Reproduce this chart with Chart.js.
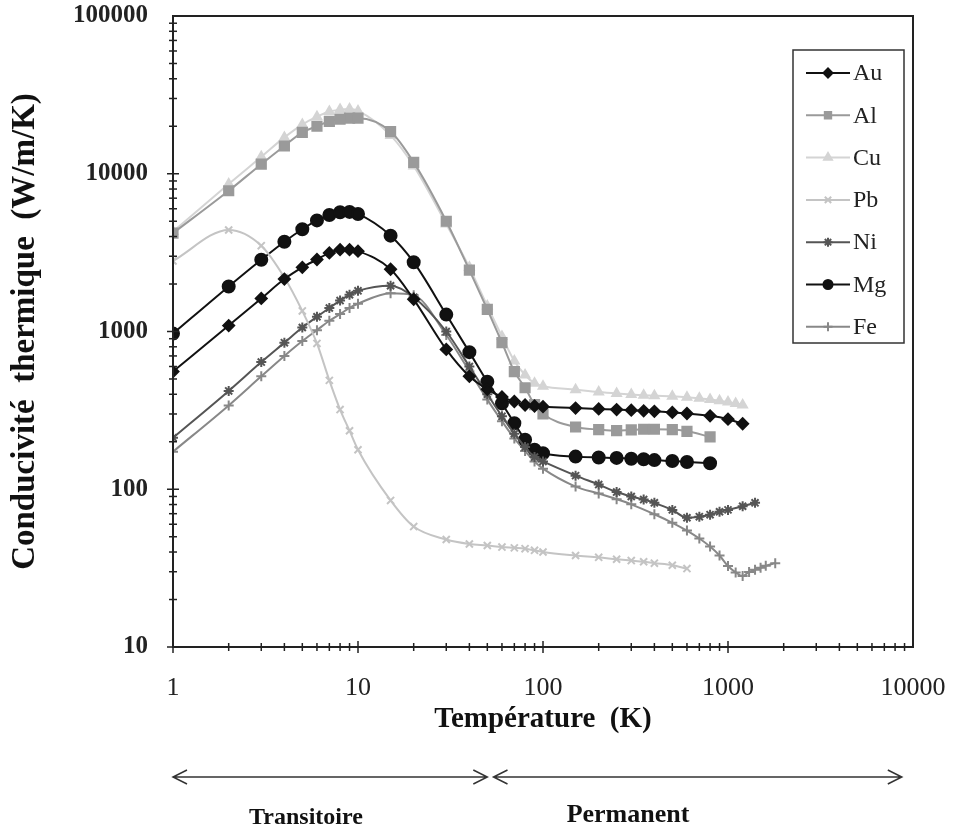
<!DOCTYPE html>
<html>
<head>
<meta charset="utf-8">
<script src="https://cdn.jsdelivr.net/npm/chart.js@4.4.0/dist/chart.umd.min.js"></script>
<style>
  body { margin: 0; background: #fff; }
</style>
</head>
<body>
<canvas id="chart" width="956" height="834"></canvas>
<script>
/** values: temperature (K) and conductivity (W/m/K) */
const auT = [1,2,3,4,5,6,7,8,9,10,15,20,30,40,50,60,70,80,90,100,150,200,250,300,350,400,500,600,800,1000,1200]
const auK = [557,1090,1620,2150,2550,2860,3150,3300,3300,3230,2480,1600,770,520,430,385,360,342,337,334,327,323,320,317,314,312,307,302,292,278,260]

const alT = [1,2,3,4,5,6,7,8,9,10,15,20,30,40,50,60,70,80,90,100,150,200,250,300,350,400,500,600,800]
const alK = [4200,7800,11500,15000,18300,20000,21500,22200,22500,22500,18500,11800,5000,2450,1380,850,557,440,344,300,248,239,235,238,240,240,239,233,215]

const cuT = [1,2,3,4,5,6,7,8,9,10,15,20,30,40,50,60,70,80,90,100,150,200,250,300,350,400,500,600,700,800,900,1000,1100,1200]
const cuK = [4300,8600,12800,17000,20500,23000,24800,25500,25700,25000,17500,11200,4800,2550,1450,930,650,530,470,450,428,413,404,398,394,392,388,383,377,371,364,357,350,342]

const pbT = [1,2,3,4,5,6,7,8,9,10,15,20,30,40,50,60,70,80,90,100,150,200,250,300,350,400,500,600]
const pbK = [2800,4400,3500,2200,1350,840,490,320,235,178,85,58,48,45,44,43,42.5,42,41,40,38,37,36,35.3,34.7,34,33,31.4]

const niT = [1,2,3,4,5,6,7,8,9,10,15,20,30,40,50,60,70,80,90,100,150,200,250,300,350,400,500,600,700,800,900,1000,1200,1400]
const niK = [212,420,640,850,1060,1240,1410,1570,1710,1810,1950,1650,1000,600,400,290,225,185,160,150,122,107,96,90,86,82,74,66,67,69,72,74,78,82]

const mgT = [1,2,3,4,5,6,7,8,9,10,15,20,30,40,50,60,70,80,90,100,150,200,250,300,350,400,500,600,800]
const mgK = [970,1930,2850,3710,4450,5060,5480,5700,5730,5560,4050,2750,1280,740,480,350,262,206,178,169,161,159,158,156,155,153,151,149,146]

const feT = [1,2,3,4,5,6,7,8,9,10,15,20,30,40,50,60,70,80,90,100,150,200,250,300,400,500,600,700,800,900,1000,1100,1200,1300,1400,1500,1600,1800]
const feK = [173,340,520,700,870,1020,1170,1290,1410,1500,1750,1700,950,560,370,270,210,175,150,135,104,94,86.5,80.2,69.4,61.3,54.7,48.7,43.3,38,32.6,29.7,28.2,29.9,30.9,31.8,32.7,34]

const xTickLabels = [1, 10, 100, 1000, 10000]
const yTickLabels = [10, 100, 1000, 10000, 100000]

const SERIF = '"Liberation Serif", "Times New Roman", serif'
Chart.defaults.font.family = SERIF

function toPoints(ts, ks) {
    return ts.map((t, i) => ({x: t, y: ks[i]}))
}

/** one dataset per metal */
function makeSeries(label, ts, ks, color, pointStyle, radius) {
    return {
        label: label,
        data: toPoints(ts, ks),
        borderColor: color,
        backgroundColor: color,
        pointBackgroundColor: color,
        pointBorderColor: color,
        pointStyle: pointStyle,
        pointRadius: radius,
        pointBorderWidth: 2,
        borderWidth: 2,
        cubicInterpolationMode: 'monotone'
    }
}

const datasets = [
    makeSeries('Au', auT, auK, '#111111', 'rectRot', 5.5),
    makeSeries('Al', alT, alK, '#9a9a9a', 'rect', 6.5),
    makeSeries('Cu', cuT, cuK, '#d4d4d4', 'triangle', 5),
    makeSeries('Pb', pbT, pbK, '#c4c4c4', 'crossRot', 5),
    makeSeries('Ni', niT, niK, '#555555', 'star', 5),
    makeSeries('Mg', mgT, mgK, '#111111', 'circle', 6),
    makeSeries('Fe', feT, feK, '#888888', 'cross', 5)
]

/** no extra room for label overflow, the layout padding decides the plot box */
function noOverflow(scale) {
    scale.paddingLeft = 0
    scale.paddingRight = 0
    scale.paddingTop = 0
    scale.paddingBottom = 0
}

/** frame, crossing tick marks, legend box and the two regime arrows */
const decorPlugin = {
    id: 'decor',
    afterDraw(chart) {
        const {ctx, chartArea: a, scales: {x, y}} = chart
        ctx.save()
        ctx.strokeStyle = '#222'
        ctx.lineWidth = 2
        ctx.strokeRect(a.left, a.top, a.right - a.left, a.bottom - a.top)

        ctx.lineWidth = 1.5
        for (let e = 0; e < 4; e++) {
            for (let m = 1; m < 10; m++) {
                const px = x.getPixelForValue(m * Math.pow(10, e))
                const h = m === 1 ? 6 : 4
                ctx.beginPath(); ctx.moveTo(px, a.bottom - h); ctx.lineTo(px, a.bottom + h); ctx.stroke()
            }
        }
        for (let e = 1; e < 5; e++) {
            for (let m = 1; m < 10; m++) {
                const py = y.getPixelForValue(m * Math.pow(10, e))
                const w = m === 1 ? 6 : 4
                ctx.beginPath(); ctx.moveTo(a.left - w, py); ctx.lineTo(a.left + w, py); ctx.stroke()
            }
        }

        /** legend */
        ctx.lineWidth = 1.5
        ctx.strokeStyle = '#333'
        ctx.strokeRect(793, 50, 111, 293)
        ctx.font = '24px ' + SERIF
        ctx.textBaseline = 'middle'
        ctx.textAlign = 'left'
        chart.data.datasets.forEach((ds, i) => {
            const ly = 73 + i * 42.3
            ctx.strokeStyle = ds.borderColor
            ctx.fillStyle = ds.borderColor
            ctx.lineWidth = 2
            ctx.beginPath(); ctx.moveTo(806, ly); ctx.lineTo(850, ly); ctx.stroke()
            Chart.helpers.drawPoint(ctx, {pointStyle: ds.pointStyle, radius: 4.5, rotation: 0, borderWidth: 2}, 828, ly)
            ctx.fillStyle = '#222'
            ctx.fillText(ds.label, 853, ly + 1)
        })

        /** regime arrows below the axis */
        ctx.strokeStyle = '#333'
        ctx.lineWidth = 1.5
        const arrowY = 777
        const drawArrow = (x1, x2) => {
            ctx.beginPath()
            ctx.moveTo(x1, arrowY); ctx.lineTo(x2, arrowY)
            ctx.moveTo(x1 + 14, arrowY - 7); ctx.lineTo(x1, arrowY); ctx.lineTo(x1 + 14, arrowY + 7)
            ctx.moveTo(x2 - 14, arrowY - 7); ctx.lineTo(x2, arrowY); ctx.lineTo(x2 - 14, arrowY + 7)
            ctx.stroke()
        }
        drawArrow(x.getPixelForValue(1), x.getPixelForValue(50))
        drawArrow(x.getPixelForValue(54), x.getPixelForValue(8700))

        ctx.fillStyle = '#111'
        ctx.font = 'bold 24px ' + SERIF
        ctx.textAlign = 'center'
        ctx.fillText('Transitoire', 306, 818)
        ctx.font = 'bold 26px ' + SERIF
        ctx.fillText('Permanent', 628, 815)
        ctx.restore()
    }
}

const ctx = document.getElementById('chart').getContext('2d')
new Chart(ctx, {
    type: 'line',
    data: { datasets: datasets },
    options: {
        responsive: false,
        animation: false,
        layout: { padding: { left: 0, right: 43, top: 16, bottom: 0 } },
        plugins: {
            legend: { display: false },
            tooltip: { enabled: false }
        },
        scales: {
            x: {
                type: 'logarithmic',
                position: 'bottom',
                min: 1,
                max: 10000,
                afterFit: scale => { scale.height = 187; noOverflow(scale) },
                grid: { display: false, drawTicks: false },
                border: { display: false },
                ticks: {
                    autoSkip: false,
                    maxRotation: 0,
                    padding: 26,
                    color: '#222',
                    font: { size: 26 },
                    callback: v => xTickLabels.includes(v) ? String(v) : ''
                },
                title: {
                    display: true,
                    text: 'Température  (K)',
                    color: '#111',
                    font: { size: 29, weight: 'bold' },
                    padding: { top: 0, bottom: 97 }
                }
            },
            y: {
                type: 'logarithmic',
                min: 10,
                max: 100000,
                afterFit: scale => { scale.width = 173; noOverflow(scale) },
                grid: { display: false, drawTicks: false },
                border: { display: false },
                ticks: {
                    autoSkip: false,
                    padding: 25,
                    color: '#222',
                    font: { size: 25, weight: 'bold' },
                    callback: v => yTickLabels.includes(v) ? String(v) : ''
                },
                title: {
                    display: true,
                    text: 'Conducivité  thermique  (W/m/K)',
                    color: '#111',
                    font: { size: 33, weight: 'bold' },
                    padding: { top: 6, bottom: 0 }
                }
            }
        }
    },
    plugins: [decorPlugin]
})
</script>
</body>
</html>
